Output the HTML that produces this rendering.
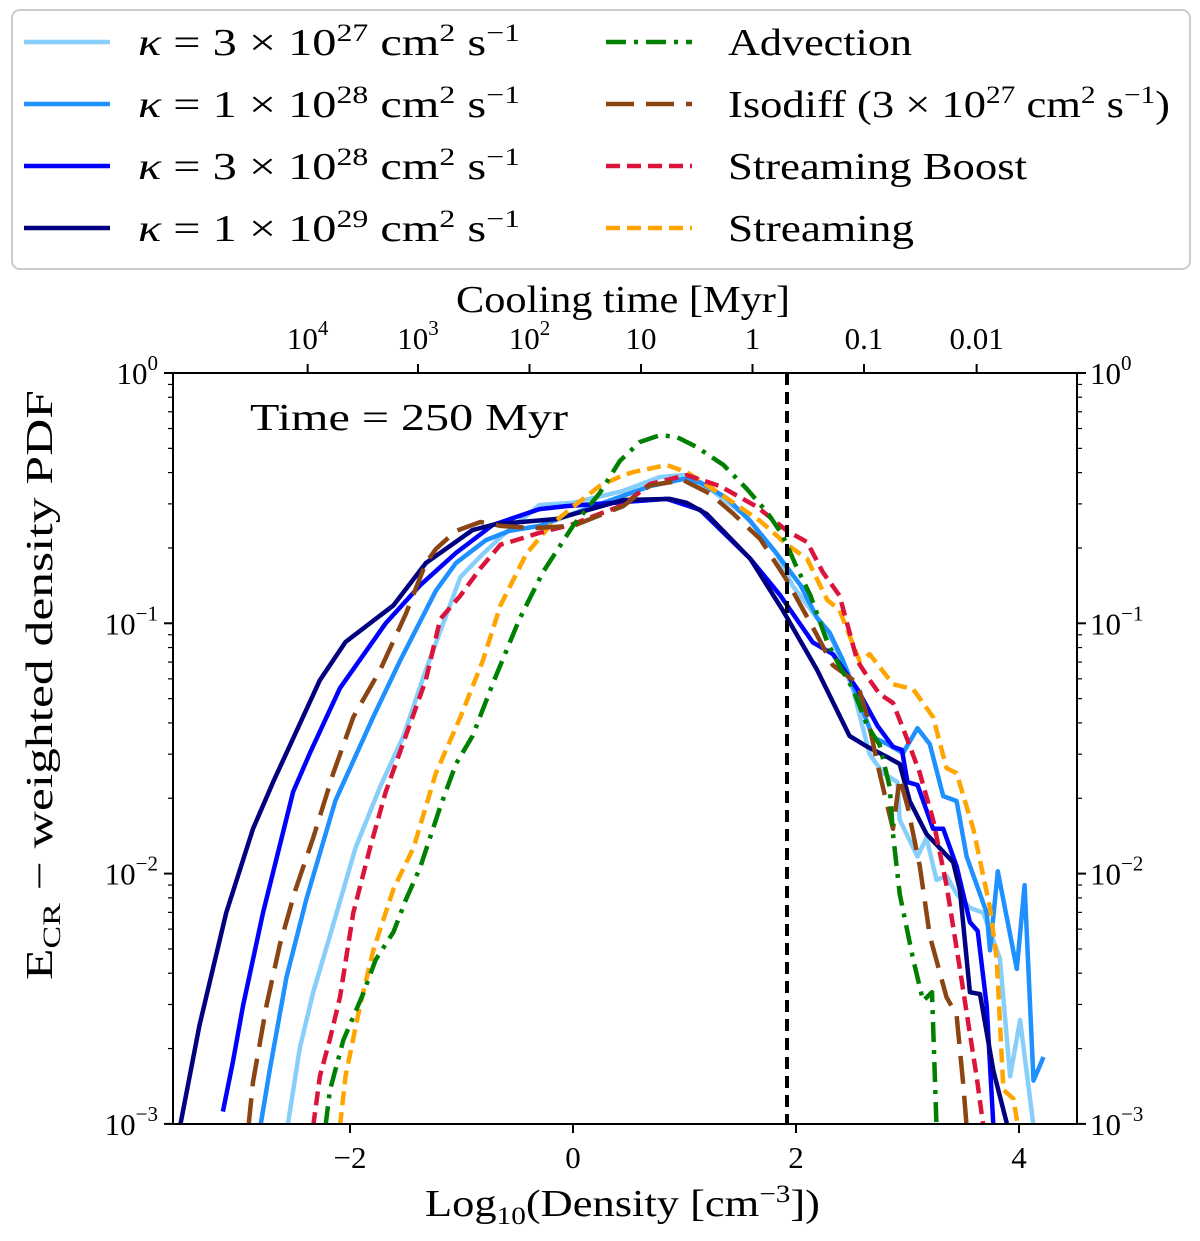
<!DOCTYPE html>
<html><head><meta charset="utf-8"><style>
body{margin:0;background:#fff;}
svg text{font-family:"Liberation Serif","DejaVu Serif",serif;fill:#000;}
</style></head><body>
<svg id="chart" width="1200" height="1236" viewBox="0 0 1200 1236" xmlns="http://www.w3.org/2000/svg">
<defs><clipPath id="plotclip"><rect x="173" y="373" width="904" height="751"/></clipPath></defs>
<g id="legend">
<rect x="12" y="10" width="1178" height="259" rx="8" fill="#fff" stroke="#ccc" stroke-width="2"/>
</g>
<g id="series" clip-path="url(#plotclip)"></g>
<line x1="787" y1="373" x2="787" y2="1124" stroke="#000" stroke-width="4" stroke-dasharray="12,7"/>
<rect x="173" y="373" width="904" height="751" fill="none" stroke="#000" stroke-width="2"/>
<g id="axes"></g>
<text x="250" y="430" font-size="38" textLength="318" lengthAdjust="spacingAndGlyphs">Time  =  250 Myr</text>
<text x="456" y="312" font-size="38" textLength="334" lengthAdjust="spacingAndGlyphs">Cooling time [Myr]</text>
<text x="425" y="1216" font-size="38" textLength="395" lengthAdjust="spacingAndGlyphs">Log<tspan font-size="25" dy="8">10</tspan><tspan dy="-8">(Density [cm</tspan><tspan font-size="25" dy="-14">−3</tspan><tspan dy="14">])</tspan></text>
<text transform="translate(52,980) rotate(-90)" font-size="38" textLength="590" lengthAdjust="spacingAndGlyphs">E<tspan font-size="25" dy="8">CR</tspan><tspan dy="-8"> − weighted density PDF</tspan></text>
</svg>
<script>
const xTicks = [-2, 0, 2, 4];
const xTickLabels = ["−2", "0", "2", "4"];
const yDecades = [0, -1, -2, -3];
const topTickLabels = ["10^4", "10^3", "10^2", "10", "1", "0.1", "0.01"];
const topTickDensity = [-2.38, -1.39, -0.39, 0.61, 1.61, 2.61, 3.62];
const seriesNames = ["kappa-3e27", "kappa-1e28", "kappa-3e28", "kappa-1e29", "advection", "isodiff", "streaming-boost", "streaming"];

const x3e27 = [-2.56,-2.45,-2.33,-2.18,-1.95,-1.73,-1.52,-1.32,-1.01,-0.81,-0.63,-0.30,0.00,0.45,0.78,0.99,1.23,1.56,1.83,1.97,2.19,2.33,2.51,2.66,2.78,2.91,2.93,3.09,3.17,3.26,3.35,3.44,3.56,3.68,3.83,3.92,4.01,4.13];
const y3e27 = [0.00098,0.00201,0.00336,0.00564,0.0127,0.0222,0.0355,0.065,0.153,0.189,0.225,0.297,0.303,0.338,0.384,0.391,0.344,0.266,0.189,0.141,0.105,0.0849,0.0547,0.030,0.0252,0.0232,0.0164,0.0117,0.0139,0.00944,0.0098,0.0083,0.0073,0.00697,0.00456,0.00155,0.0026,0.00098];
const x1e28 = [-2.80,-2.72,-2.57,-2.39,-2.13,-1.79,-1.55,-1.23,-1.05,-0.78,-0.57,-0.30,0.00,0.45,0.69,0.99,1.14,1.38,1.59,1.83,2.04,2.19,2.30,2.42,2.57,2.69,2.82,2.96,3.09,3.20,3.32,3.44,3.53,3.71,3.74,3.81,3.98,4.05,4.13,4.22];
const y1e28 = [0.001,0.00164,0.00384,0.00794,0.0196,0.0424,0.071,0.135,0.174,0.215,0.234,0.245,0.274,0.323,0.353,0.377,0.366,0.316,0.256,0.189,0.142,0.105,0.092,0.0713,0.0484,0.0351,0.0329,0.0303,0.0381,0.0329,0.0204,0.0195,0.0117,0.00697,0.00494,0.0102,0.00416,0.009,0.00149,0.00185];
const x3e28 = [-3.14,-3.05,-2.96,-2.78,-2.51,-2.36,-2.09,-1.68,-1.37,-1.05,-0.72,-0.30,-0.06,0.45,0.84,1.14,1.59,1.86,2.15,2.33,2.55,2.73,2.87,2.95,3.00,3.09,3.23,3.32,3.44,3.56,3.63,3.71,3.77];
const y3e28 = [0.00112,0.00177,0.00296,0.00697,0.0212,0.0303,0.0551,0.100,0.142,0.191,0.247,0.286,0.294,0.305,0.314,0.284,0.181,0.129,0.084,0.0753,0.0546,0.039,0.0321,0.0312,0.0232,0.0226,0.0151,0.0151,0.0107,0.0064,0.0059,0.00296,0.00098];
const x1e29 = [-3.52,-3.35,-3.11,-2.87,-2.69,-2.27,-2.04,-1.61,-1.32,-0.90,-0.69,-0.15,0.45,0.87,1.02,1.20,1.59,1.88,2.19,2.48,2.64,2.82,2.93,3.02,3.17,3.41,3.47,3.56,3.65,3.77,3.90];
const y1e29 = [0.001,0.00248,0.00697,0.0151,0.0232,0.0593,0.0842,0.118,0.174,0.236,0.249,0.261,0.311,0.314,0.303,0.273,0.181,0.113,0.065,0.0355,0.0321,0.0292,0.0274,0.0195,0.0144,0.0111,0.0086,0.00336,0.0033,0.00163,0.00097];
const xAdv = [-2.22,-2.18,-2.06,-1.88,-1.77,-1.61,-1.50,-1.37,-1.19,-1.05,-0.90,-0.72,-0.48,-0.27,0.00,0.24,0.42,0.60,0.78,0.93,1.11,1.35,1.56,1.74,1.88,2.01,2.13,2.28,2.39,2.51,2.64,2.75,2.84,2.87,2.93,3.05,3.14,3.22,3.26];
const yAdv = [0.00098,0.00136,0.00216,0.00333,0.00452,0.00585,0.00785,0.0106,0.0185,0.0274,0.0355,0.0573,0.104,0.160,0.245,0.332,0.445,0.530,0.565,0.555,0.506,0.429,0.344,0.278,0.225,0.166,0.129,0.0842,0.0675,0.0547,0.0389,0.0327,0.0222,0.0144,0.0083,0.00456,0.0031,0.00336,0.00098];
const xIso = [-2.91,-2.87,-2.75,-2.63,-2.49,-2.33,-2.15,-1.97,-1.73,-1.50,-1.32,-1.23,-1.05,-0.83,-0.65,-0.36,0.00,0.45,0.69,0.99,1.23,1.43,1.68,1.92,2.15,2.33,2.55,2.64,2.73,2.82,2.87,2.93,3.00,3.11,3.20,3.35,3.44,3.50,3.53];
const yIso = [0.00098,0.00147,0.00296,0.00519,0.0086,0.0139,0.0252,0.0422,0.065,0.109,0.174,0.198,0.234,0.254,0.245,0.240,0.245,0.294,0.356,0.373,0.329,0.276,0.217,0.148,0.0966,0.068,0.0577,0.0424,0.0274,0.0186,0.0151,0.0241,0.0186,0.0107,0.00564,0.00321,0.00272,0.00143,0.00098];
const xBoost = [-2.33,-2.27,-2.18,-2.09,-1.97,-1.82,-1.68,-1.50,-1.32,-1.19,-1.01,-0.83,-0.65,-0.51,-0.30,0.00,0.45,0.69,1.02,1.32,1.65,1.92,2.10,2.24,2.39,2.55,2.66,2.75,2.87,3.00,3.11,3.23,3.35,3.47,3.56,3.62,3.68];
const yBoost = [0.00098,0.00155,0.00218,0.00321,0.00697,0.0127,0.0212,0.0355,0.0593,0.104,0.129,0.166,0.206,0.215,0.230,0.249,0.297,0.36,0.391,0.353,0.292,0.234,0.211,0.160,0.129,0.0708,0.0594,0.0522,0.0481,0.0342,0.0252,0.0164,0.009,0.00416,0.00229,0.00155,0.00098];
const xStr = [-2.09,-2.04,-1.91,-1.79,-1.61,-1.43,-1.23,-1.01,-0.81,-0.65,-0.42,-0.21,0.00,0.24,0.45,0.54,0.84,1.02,1.38,1.68,1.92,2.10,2.28,2.39,2.57,2.66,2.87,3.05,3.23,3.35,3.44,3.59,3.74,3.80,3.86,3.95,3.99];
const yStr = [0.00098,0.00155,0.00296,0.00495,0.00869,0.0127,0.0252,0.0422,0.0706,0.118,0.189,0.245,0.292,0.354,0.391,0.402,0.429,0.402,0.316,0.256,0.206,0.181,0.124,0.113,0.0706,0.0753,0.0571,0.0546,0.0422,0.0264,0.0252,0.0151,0.0073,0.00456,0.00137,0.00126,0.00098];

const NS = "http://www.w3.org/2000/svg";
const X0 = 573, XU = 111.5, Y0 = 373, YD = 250.3;
function xScale(v){ return X0 + v * XU; }
function yScale(v){ return Y0 - Math.log10(v) * YD; }
function yScaleLog(d){ return Y0 - d * YD; }
function mk(tag, attrs, parent){ const e = document.createElementNS(NS, tag); for (const k in attrs) e.setAttribute(k, attrs[k]); parent.appendChild(e); return e; }

const seriesGroup = document.getElementById('series');
const styles = [
  {xs:x3e27, ys:y3e27, c:"#87cefa", d:"", w:4.5},
  {xs:x1e28, ys:y1e28, c:"#1e90ff", d:"", w:4.5},
  {xs:x3e28, ys:y3e28, c:"#0000ff", d:"", w:4.5},
  {xs:x1e29, ys:y1e29, c:"#000080", d:"", w:4.5},
  {xs:xStr, ys:yStr, c:"#ffa500", d:"14,7", w:4.5},
  {xs:xBoost, ys:yBoost, c:"#dc143c", d:"14,7", w:4.5},
  {xs:xIso, ys:yIso, c:"#8b4513", d:"28,12", w:4.5},
  {xs:xAdv, ys:yAdv, c:"#008000", d:"20,8,4,8", w:4.5}
];
const order = ["kappa-3e27","kappa-1e28","kappa-3e28","kappa-1e29","streaming","streaming-boost","isodiff","advection"];
styles.forEach((s, i) => {
  const pts = s.xs.map((v, j) => xScale(v).toFixed(1) + "," + yScale(s.ys[j]).toFixed(1)).join(" ");
  const pl = mk('polyline', {points: pts, fill: "none", stroke: s.c, "stroke-width": s.w, "stroke-linejoin": "round"}, seriesGroup);
  if (s.d) pl.setAttribute('stroke-dasharray', s.d);
  
  
});

const axes = document.getElementById('axes');
xTicks.forEach((v, i) => {
  const px = xScale(v);
  const t = mk('line', {x1: px, y1: 1124, x2: px, y2: 1133, stroke: "#000", "stroke-width": 2}, axes);
  
  
  const l = mk('text', {x: px, y: 1168, "font-size": 31, "text-anchor": "middle"}, axes);
  l.textContent = xTickLabels[i];
  
  
});
yDecades.forEach(d => {
  const py = yScaleLog(d);
  [[173, 164], [1077, 1086]].forEach(([a, b]) => {
    const t = mk('line', {x1: a, y1: py, x2: b, y2: py, stroke: "#000", "stroke-width": 2}, axes);
    
    
  });
  if (d > -3) {
    for (let m = 2; m <= 9; m++) {
      const my = yScaleLog(d - 1 + Math.log10(m));
      [[173, 168], [1077, 1082]].forEach(([a, b]) => {
        const t = mk('line', {x1: a, y1: my, x2: b, y2: my, stroke: "#000", "stroke-width": 1.2}, axes);
        
        
      });
    }
  }
  [[158, "end"], [1090, "start"]].forEach(([x, anc]) => {
    const l = mk('text', {x: x, y: py + 11, "font-size": 31, "text-anchor": anc}, axes);
    l.innerHTML = '10<tspan font-size="21" dy="-14">' + (d === 0 ? '0' : '−' + (-d)) + '</tspan>';
    
    
  });
});
topTickDensity.forEach((v, i) => {
  const px = xScale(v);
  const t = mk('line', {x1: px, y1: 373, x2: px, y2: 364, stroke: "#000", "stroke-width": 2}, axes);
  
  
  const lab = topTickLabels[i];
  const l = mk('text', {x: px, y: 349, "font-size": 31, "text-anchor": "middle"}, axes);
  if (lab.indexOf('^') > 0) {
    const p = lab.split('^');
    l.innerHTML = p[0] + '<tspan font-size="21" dy="-14">' + p[1] + '</tspan>';
  } else l.textContent = lab;
  
  
});

// legend
const legend = document.getElementById('legend');
const kap = (a, b) => '<tspan font-style="italic">κ</tspan> = ' + a + ' × 10<tspan font-size="25" dy="-14">' + b + '</tspan><tspan dy="14"> cm</tspan><tspan font-size="25" dy="-14">2</tspan><tspan dy="14"> s</tspan><tspan font-size="25" dy="-14">−1</tspan>';
const legendLabels = [
  [kap('3', '27'), 0, 382],
  [kap('1', '28'), 1, 382],
  [kap('3', '28'), 2, 382],
  [kap('1', '29'), 3, 382],
  ['Advection', 7, 184],
  ['Isodiff (3 × 10<tspan font-size="25" dy="-14">27</tspan><tspan dy="14"> cm</tspan><tspan font-size="25" dy="-14">2</tspan><tspan dy="14"> s</tspan><tspan font-size="25" dy="-14">−1</tspan><tspan dy="14">)</tspan>', 6, 442],
  ['Streaming Boost', 5, 299],
  ['Streaming', 4, 186]
];
const legendNames = ["kappa-3e27","kappa-1e28","kappa-3e28","kappa-1e29","advection","isodiff","streaming-boost","streaming"];
legendLabels.forEach((e, i) => {
  const col = i < 4 ? 0 : 1, row = i % 4;
  const y = 42 + row * 62;
  const lx = col === 0 ? 24 : 606, tx = col === 0 ? 138 : 728;
  const s = styles[e[1]];
  const ln = mk('line', {x1: lx, y1: y, x2: lx + 86, y2: y, stroke: s.c, "stroke-width": 4.5}, legend);
  if (s.d) ln.setAttribute('stroke-dasharray', s.d);
  
  
  const t = mk('text', {x: tx, y: y + 13, "font-size": 38, textLength: e[2], lengthAdjust: "spacingAndGlyphs"}, legend);
  t.innerHTML = e[0];
  
  
});
</script>
</body></html>
